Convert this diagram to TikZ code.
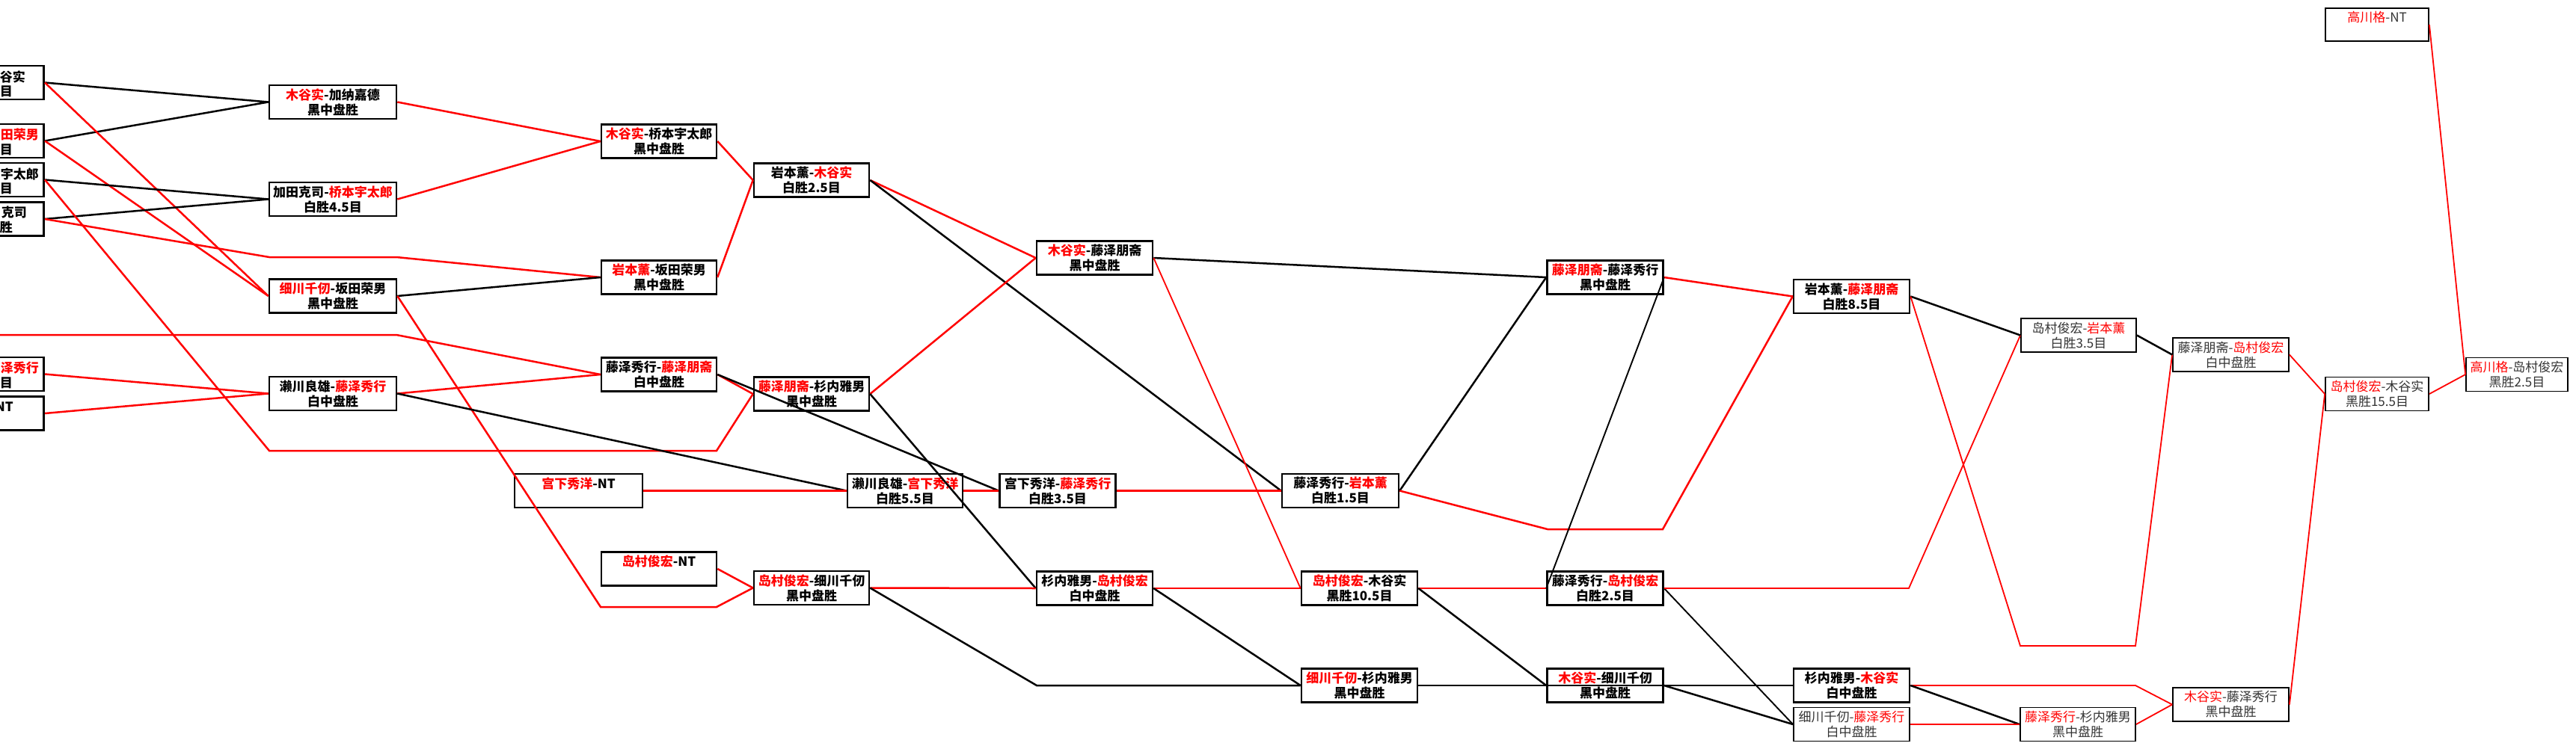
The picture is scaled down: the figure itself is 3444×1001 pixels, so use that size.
\documentclass[tikz,border=0pt]{standalone}
\usepackage{fontspec}
\setmainfont{Noto Sans CJK SC}
\usepackage{xcolor}
\usepackage{tikz}
\newcommand{\gofont}{\fontsize{17}{20}\selectfont}
\newcommand{\wname}[1]{\textcolor{red}{#1}}
\tikzset{game/.style={draw, line width=2.6pt, minimum width=155pt, minimum height=45pt, inner sep=0pt, align=center, font=\gofont\bfseries}}
\tikzset{gamelite/.style={game, line width=1.8pt, text=black!80, font=\gofont\mdseries}}
\tikzset{cuttext/.style={inner sep=0pt, anchor=east, font=\gofont\bfseries}}
\tikzset{won/.style={red, line width=2.5pt}}
\tikzset{wonthin/.style={red, line width=1.8pt}}
\tikzset{lost/.style={black, line width=2.5pt}}
\tikzset{lostthin/.style={black, line width=1.9pt}}

\begin{document}
\begin{tikzpicture}[x=1pt,y=-1pt]
{
\useasboundingbox (0,0) rectangle (3444,1001);
\clip (0,0) rectangle (3444,1001);
\node[game, minimum width=170pt, anchor=east] (a1) at (60,110.5) {};
\node[game, minimum width=170pt, anchor=east] (a2) at (60,188.5) {};
\node[game, minimum width=170pt, anchor=east] (a3) at (60,240.5) {};
\node[game, minimum width=170pt, anchor=east] (a4) at (60,293) {};
\node[game, minimum width=170pt, anchor=east] (a5) at (60,500.5) {};
\node[game, minimum width=170pt, anchor=east] (a6) at (60,553) {};
\node[cuttext] (a1t) at (34,102.5) {谷实};
\node[cuttext] (a1s) at (17,122) {目};
\node[cuttext, text=red] (a2t) at (52,180.5) {田荣男};
\node[cuttext] (a2s) at (17,200) {目};
\node[cuttext] (a3t) at (52,232.5) {宇太郎};
\node[cuttext] (a3s) at (17,252) {目};
\node[cuttext] (a4t) at (36,284.5) {克司};
\node[cuttext] (a4s) at (17,304) {胜};
\node[cuttext, text=red] (a5t) at (52,492.5) {泽秀行};
\node[cuttext] (a5s) at (17,512) {目};
\node[cuttext] (a6t) at (18,544.5) {NT};
\node[game, minimum width=170pt] (b1) at (445,136.5) {\wname{木谷实}-加纳嘉德\\黑中盘胜};
\node[game, minimum width=170pt] (b2) at (445,266.5) {加田克司-\wname{桥本宇太郎}\\白胜4.5目};
\node[game, minimum width=170pt] (b3) at (445,396) {\wname{细川千仞}-坂田荣男\\黑中盘胜};
\node[game, minimum width=170pt] (b4) at (445,526.5) {濑川良雄-\wname{藤泽秀行}\\白中盘胜};
\node[game, minimum width=171pt] (nt1) at (773.5,656.5) {\wname{宫下秀洋}-NT\\\phantom{黑}};
\node[game, minimum width=154pt] (c1) at (881,189) {\wname{木谷实}-桥本宇太郎\\黑中盘胜};
\node[game, minimum width=154pt] (c2) at (881,371) {\wname{岩本薰}-坂田荣男\\黑中盘胜};
\node[game, minimum width=154pt] (c3) at (881,501) {藤泽秀行-\wname{藤泽朋斋}\\白中盘胜};
\node[game, minimum width=154pt] (nt2) at (881,761) {\wname{岛村俊宏}-NT\\\phantom{黑}};
\node[game, minimum width=154pt] (d1) at (1085,241) {岩本薰-\wname{木谷实}\\白胜2.5目};
\node[game, minimum width=154pt] (d2) at (1085,527) {\wname{藤泽朋斋}-杉内雅男\\黑中盘胜};
\node[game, minimum width=154pt] (d3) at (1210,656.5) {濑川良雄-\wname{宫下秀洋}\\白胜5.5目};
\node[game, minimum width=154pt] (d4) at (1085,786.5) {\wname{岛村俊宏}-细川千仞\\黑中盘胜};
\node[game] (e1) at (1463.5,345) {\wname{木谷实}-藤泽朋斋\\黑中盘胜};
\node[game] (e2) at (1414,656.5) {宫下秀洋-\wname{藤泽秀行}\\白胜3.5目};
\node[game] (e3) at (1463.5,787) {杉内雅男-\wname{岛村俊宏}\\白中盘胜};
\node[game, minimum width=156pt] (f1) at (1792,656.5) {藤泽秀行-\wname{岩本薰}\\白胜1.5目};
\node[game] (f2) at (1817.5,787) {\wname{岛村俊宏}-木谷实\\黑胜10.5目};
\node[game] (f3) at (1817.5,917) {\wname{细川千仞}-杉内雅男\\黑中盘胜};
\node[game] (g1) at (2146,371) {\wname{藤泽朋斋}-藤泽秀行\\黑中盘胜};
\node[game] (g2) at (2146,787) {藤泽秀行-\wname{岛村俊宏}\\白胜2.5目};
\node[game] (g3) at (2146,917) {\wname{木谷实}-细川千仞\\黑中盘胜};
\node[game] (h1) at (2475.5,396.5) {岩本薰-\wname{藤泽朋斋}\\白胜8.5目};
\node[game] (h2) at (2475.5,917) {杉内雅男-\wname{木谷实}\\白中盘胜};
\node[gamelite] (h3) at (2475.5,969) {细川千仞-\wname{藤泽秀行}\\白中盘胜};
\node[gamelite, minimum width=154pt] (i1) at (2779,448.5) {岛村俊宏-\wname{岩本薰}\\白胜3.5目};
\node[gamelite, minimum width=154pt] (i2) at (2778,969) {\wname{藤泽秀行}-杉内雅男\\黑中盘胜};
\node[gamelite] (j1) at (2982.5,474.5) {藤泽朋斋-\wname{岛村俊宏}\\白中盘胜};
\node[gamelite] (j2) at (2982.5,942.5) {\wname{木谷实}-藤泽秀行\\黑中盘胜};
\node[gamelite, minimum width=138pt, minimum height=44pt] (k1) at (3178,33) {\wname{高川格}-NT\\\phantom{黑}};
\node[gamelite, minimum width=138pt] (k2) at (3178,527) {\wname{岛村俊宏}-木谷实\\黑胜15.5目};
\node[gamelite, minimum width=136pt] (l1) at (3365,501) {\wname{高川格}-岛村俊宏\\黑胜2.5目};
\coordinate (k7a) at (360,603);
\coordinate (k7b) at (958,603);
\coordinate (k8a) at (360,344);
\coordinate (k8b) at (530,344);
\coordinate (k9s) at (0,448);
\coordinate (k9a) at (530,448);
\coordinate (k15a) at (803,812);
\coordinate (k15b) at (958,812);
\coordinate (k30a) at (1386,917);
\coordinate (k37a) at (2069,708);
\coordinate (k37b) at (2223,708);
\coordinate (k44a) at (2552,787);
\coordinate (k47a) at (2701,864);
\coordinate (k47b) at (2855,864);
\coordinate (k48a) at (2855,917);
\draw[lost] (a1.east) -- (b1.west);
\draw[lost] (a2.east) -- (b1.west);
\draw[won] (a1.east) -- (b3.west);
\draw[won] (a2.east) -- (b3.west);
\draw[lost] (a3.east) -- (b2.west);
\draw[lost] (a4.east) -- (b2.west);
\draw[won] (a3.east) -- (k7a) -- (k7b) -- (d2.west);
\draw[won] (a4.east) -- (k8a) -- (k8b) -- (c2.west);
\draw[won] (k9s) -- (k9a) -- (c3.west);
\draw[won] (a5.east) -- (b4.west);
\draw[won] (a6.east) -- (b4.west);
\draw[won] (b1.east) -- (c1.west);
\draw[won] (b2.east) -- (c1.west);
\draw[lost] (b3.east) -- (c2.west);
\draw[won] (b3.east) -- (k15a) -- (k15b) -- (d4.west);
\draw[won] (b4.east) -- (c3.west);
\draw[lost] (b4.east) -- (d3.west);
\draw[won] (nt1.east) -- (d3.west);
\draw[won] (c1.east) -- (d1.west);
\draw[won] (c2.east) -- (d1.west);
\draw[won] (c3.east) -- (d2.west);
\draw[lost] (c3.east) -- (e2.west);
\draw[won] (nt2.east) -- (d4.west);
\draw[won] (d1.east) -- (e1.west);
\draw[lost] (d1.east) -- (f1.west);
\draw[won] (d2.east) -- (e1.west);
\draw[lost] (d2.east) -- (e3.west);
\draw[won] (d3.east) -- (e2.west);
\draw[won] (d4.east) -- (e3.west);
\draw[lost] (d4.east) -- (k30a) -- (f3.west);
\draw[lost] (e1.east) -- (g1.west);
\draw[wonthin] (e1.east) -- (f2.west);
\draw[won] (e2.east) -- (f1.west);
\draw[won] (e3.east) -- (f2.west);
\draw[lost] (e3.east) -- (f3.west);
\draw[lost] (f1.east) -- (g1.west);
\draw[won] (f1.east) -- (k37a) -- (k37b) -- (h1.west);
\draw[won] (f2.east) -- (g2.west);
\draw[lost] (f2.east) -- (g3.west);
\draw[lost] (f3.east) -- (h2.west);
\draw[won] (g1.east) -- (h1.west);
\draw[lostthin] (g1.east) -- (g2.west);
\draw[lostthin] (g2.east) -- (h3.west);
\draw[wonthin] (g2.east) -- (k44a) -- (i1.west);
\draw[lost] (g3.east) -- (h3.west);
\draw[lost] (h1.east) -- (i1.west);
\draw[wonthin] (h1.east) -- (k47a) -- (k47b) -- (j1.west);
\draw[wonthin] (h2.east) -- (k48a) -- (j2.west);
\draw[lost] (h2.east) -- (i2.west);
\draw[wonthin] (h3.east) -- (i2.west);
\draw[wonthin] (i2.east) -- (j2.west);
\draw[lost] (i1.east) -- (j1.west);
\draw[wonthin] (j1.east) -- (k2.west);
\draw[wonthin] (j2.east) -- (k2.west);
\draw[wonthin] (k1.east) -- (l1.west);
\draw[wonthin] (k2.east) -- (l1.west);
}
\end{tikzpicture}
\end{document}
